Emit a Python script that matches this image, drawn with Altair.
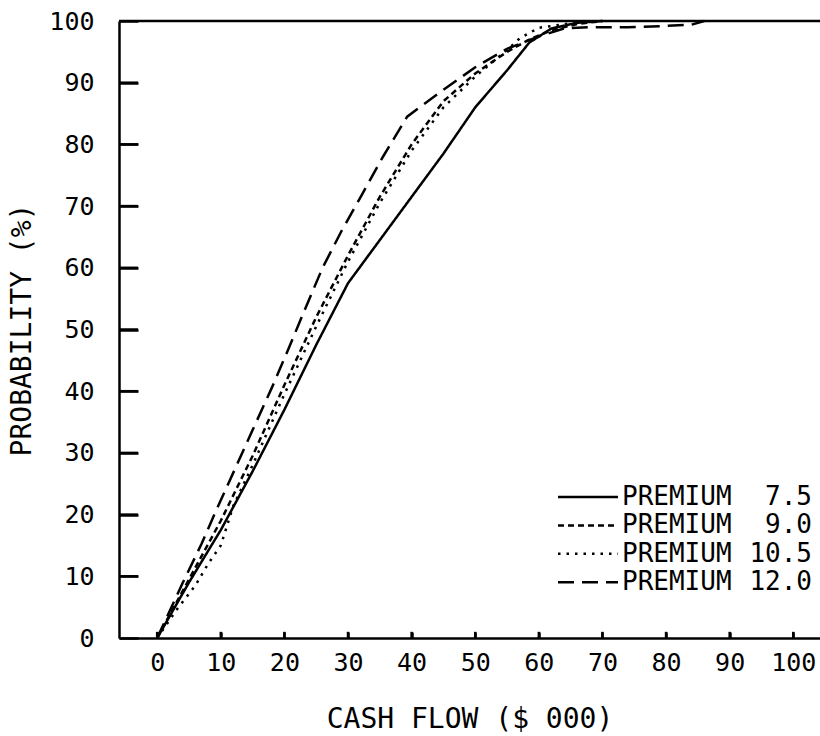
import altair as alt
import pandas as pd

# ---------------- data ----------------
series_labels = ["PREMIUM  7.5", "PREMIUM  9.0", "PREMIUM 10.5", "PREMIUM 12.0"]
premium_values = ["7.5", "9.0", "10.5", "12.0"]

cash_75 = [0, 5, 10, 15, 20, 25, 30, 35, 40, 45, 50, 55, 58.5, 62, 66, 70]
prob_75 = [0, 9, 17.5, 27, 37, 47.5, 57.5, 64.5, 71.5, 78.5, 86, 92, 96.5, 98.8, 99.7, 100]

cash_90 = [0, 5, 10, 15, 20, 25, 30, 35, 40, 45, 50, 55, 58.5, 62, 66, 70]
prob_90 = [0, 9.5, 19, 29.5, 41, 52, 62, 71.5, 80, 87, 91.5, 95, 97, 98.5, 99.5, 100]

cash_105 = [0, 3, 6, 8, 10, 12, 15, 20, 25, 30, 35, 40, 45, 50, 55, 57, 60, 63.5, 66, 68]
prob_105 = [0, 4.5, 8.5, 12, 15, 21.5, 28, 39.5, 50.5, 61, 70.5, 79, 86, 91, 95.3, 97.2, 98.9, 99.4, 99.8, 100]

cash_120 = [0, 4, 7, 9.5, 12.5, 15, 18, 20.5, 23, 26, 29, 32, 35.5, 39.3, 44.5, 50,
            55, 60, 64, 68, 74, 80, 84, 86]
prob_120 = [0, 8.9, 15.3, 21.2, 28, 33.7, 40.5, 46.5, 52.7, 60, 66, 71.5, 78, 84.5, 88.5, 92.5,
            95.5, 97.5, 98.8, 99, 99, 99.2, 99.4, 100]

x_tick_values = [0, 10, 20, 30, 40, 50, 60, 70, 80, 90, 100]
y_tick_values = [0, 10, 20, 30, 40, 50, 60, 70, 80, 90, 100]
y_inner_ticks = [10, 20, 30, 40, 50, 60, 70, 80, 90]

x_title = "CASH  FLOW  ($ 000)"
y_title = "PROBABILITY (%)"

# ---------------- build tables ----------------
rows = []
for lab, xs, ys in zip(series_labels, [cash_75, cash_90, cash_105, cash_120],
                       [prob_75, prob_90, prob_105, prob_120]):
    for i, (a, b) in enumerate(zip(xs, ys)):
        rows.append({"premium": lab, "cash": a, "prob": b, "i": i})
df = pd.DataFrame(rows)

legend_df = pd.DataFrame({"premium": series_labels, "val": premium_values,
                          "row": list(range(len(series_labels)))})

# ---------------- styling ----------------
PLOT_W, PLOT_H = 701, 617
FONT = "DejaVu Sans Mono"
dash_range = [[1, 0], [6, 4], [2.5, 6], [16, 8]]
X_MIN, X_MAX = -6, 104.2
LEG_TOP, LEG_STEP = 476, 28.4   # legend row centres, pixels from plot top

Y_TICK_LEN = 19
X_TICK_LEN = 6
GAP = 1000
x_dash_offset = (X_TICK_LEN + GAP) - (PLOT_H - X_TICK_LEN)

x_scale = alt.Scale(domain=[X_MIN, X_MAX], nice=False, zero=False)
y_scale = alt.Scale(domain=[0, 100], nice=False, zero=False)
dash_scale = alt.Scale(domain=series_labels, range=dash_range)

# inward ticks on the left axis and small upward ticks on the bottom axis
y_ticks = alt.Chart(pd.DataFrame({"prob": y_inner_ticks})).mark_rule(
    color="black", strokeWidth=2.5).encode(
    y=alt.Y("prob:Q", scale=y_scale),
    x=alt.datum(X_MIN), x2=alt.datum(X_MIN + 3.0))

x_ticks = alt.Chart(pd.DataFrame({"cash": x_tick_values})).mark_rule(
    color="black", strokeWidth=2.5).encode(
    x=alt.X("cash:Q", scale=x_scale), y=alt.datum(0), y2=alt.datum(1.0))

lines = alt.Chart(df).mark_line(color="black", strokeWidth=2.5).encode(
    x=alt.X("cash:Q", scale=x_scale, title=x_title,
            axis=alt.Axis(values=x_tick_values, labelFont=FONT, labelFontSize=25,
                          labelPadding=12, labelColor="black", ticks=False, tickSize=0,
                          domain=True, domainColor="black", domainWidth=2.5,
                          grid=True, gridColor="black", gridWidth=2.5, gridOpacity=1,
                          gridDash=[X_TICK_LEN, GAP], gridDashOffset=x_dash_offset,
                          titleFont=FONT, titleFontSize=28, titleFontWeight="normal",
                          titleColor="black", titlePadding=30, labelFlush=False,
                          labelOverlap=False)),
    y=alt.Y("prob:Q", scale=y_scale, title=y_title,
            axis=alt.Axis(values=y_tick_values, labelFont=FONT, labelFontSize=25,
                          labelPadding=25, labelColor="black", ticks=False, tickSize=0,
                          domain=True, domainColor="black", domainWidth=2.5,
                          grid=True, gridColor="black", gridWidth=2.5, gridOpacity=1,
                          gridDash=[Y_TICK_LEN, GAP],
                          titleFont=FONT, titleFontSize=28, titleFontWeight="normal",
                          titleColor="black", titlePadding=12, labelFlush=False,
                          labelOverlap=False)),
    strokeDash=alt.StrokeDash("premium:N", scale=dash_scale, legend=None),
    order="i:Q",
)

top_border = alt.Chart(pd.DataFrame({"prob": [100]})).mark_rule(
    color="black", strokeWidth=2.5).encode(y=alt.Y("prob:Q", scale=y_scale))

# ---------------- legend (lower right, inside the plot) ----------------
leg_base = alt.Chart(legend_df).transform_calculate(
    ly=f"({PLOT_H} - ({LEG_TOP} + {LEG_STEP} * datum.row)) / {PLOT_H} * 100")

leg_rules = leg_base.mark_rule(color="black", strokeWidth=2.5).encode(
    y=alt.Y("ly:Q", scale=y_scale),
    x=alt.value(439), x2=alt.value(499),
    strokeDash=alt.StrokeDash("premium:N", scale=dash_scale, legend=None))

leg_words = leg_base.mark_text(align="left", baseline="middle", font=FONT, fontSize=26,
                               color="black", text="PREMIUM").encode(
    y=alt.Y("ly:Q", scale=y_scale), x=alt.value(503))

leg_vals = leg_base.mark_text(align="right", baseline="middle", font=FONT, fontSize=26,
                              color="black").encode(
    y=alt.Y("ly:Q", scale=y_scale), x=alt.value(693),
    text=alt.Text("val:N"))

chart = alt.layer(y_ticks, x_ticks, lines, top_border, leg_rules, leg_words, leg_vals).properties(
    width=PLOT_W, height=PLOT_H,
    autosize=alt.AutoSizeParams(type="none"),
    padding={"left": 119, "top": 21, "right": 0, "bottom": 98},
    background="white",
).configure_view(strokeWidth=0)

chart.save("out.html", embed_options={"renderer": "svg", "actions": False})
